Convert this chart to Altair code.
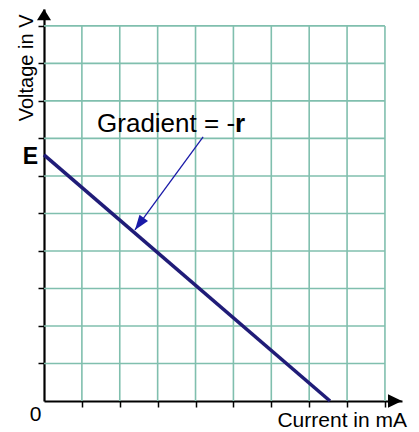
import altair as alt
import pandas as pd

# ---- data (chart units) ----
current_grid = [1, 2, 3, 4, 5, 6, 7, 8, 9]          # vertical grid lines / x ticks
voltage_grid = [1, 2, 3, 4, 5, 6, 7, 8, 9, 10]      # horizontal grid lines / y ticks
grid_current_max = 9
grid_voltage_max = 10
emf_E = 6.56            # intercept on voltage axis
current_intercept = 7.55  # intercept on current axis
line_current = [0, current_intercept]
line_voltage = [emf_E, 0]
x_axis_end = 9.45
y_axis_end = 10.45
arrow_from = [4.20, 7.04]
arrow_to = [2.40, 4.56]
label_anchor = [1.40, 7.17]

FONT = "Liberation Sans"
GRID = "#80bfae"

xs = alt.Scale(domain=[0, x_axis_end], nice=False, zero=False)
ys = alt.Scale(domain=[0, y_axis_end], nice=False, zero=False)
XA = alt.Axis(values=current_grid, labels=False, title=None, grid=False, ticks=True,
              tickSize=6, tickColor="black", tickWidth=1.5, domainColor="black", domainWidth=2.2)
YA = alt.Axis(values=voltage_grid, labels=False, title=None, grid=False, ticks=True,
              tickSize=6, tickColor="black", tickWidth=1.5, domainColor="black", domainWidth=2.2)

vgrid_df = pd.DataFrame({"x": current_grid, "y0": 0, "y1": grid_voltage_max})
hgrid_df = pd.DataFrame({"y": voltage_grid, "x0": 0, "x1": grid_current_max})

vgrid = alt.Chart(vgrid_df).mark_rule(color=GRID, strokeWidth=1.6).encode(
    x=alt.X("x:Q", scale=xs, axis=XA),
    y=alt.Y("y0:Q", scale=ys, axis=YA),
    y2="y1:Q",
)
hgrid = alt.Chart(hgrid_df).mark_rule(color=GRID, strokeWidth=1.6).encode(
    y=alt.Y("y:Q", scale=ys, axis=YA),
    x=alt.X("x0:Q", scale=xs, axis=XA),
    x2="x1:Q",
)

line_df = pd.DataFrame({"I": line_current, "V": line_voltage})
vline = alt.Chart(line_df).mark_line(color="#201c78", strokeWidth=3.6).encode(
    x=alt.X("I:Q", scale=xs, axis=XA),
    y=alt.Y("V:Q", scale=ys, axis=YA),
)

# axis arrowheads
up_df = pd.DataFrame({"x": [0], "y": [y_axis_end]})
right_df = pd.DataFrame({"x": [x_axis_end], "y": [0]})
up_head = alt.Chart(up_df).mark_point(shape="M0,0L-1,1.6L1,1.6Z", filled=True, size=196,
                                      color="black", opacity=1, strokeWidth=0).encode(
    x=alt.X("x:Q", scale=xs, axis=XA), y=alt.Y("y:Q", scale=ys, axis=YA))
right_head = alt.Chart(right_df).mark_point(shape="M0,0L-2,-0.95L-2,0.95Z", filled=True, size=196,
                                            color="black", opacity=1, strokeWidth=0).encode(
    x=alt.X("x:Q", scale=xs, axis=XA), y=alt.Y("y:Q", scale=ys, axis=YA))

# annotation arrow
arr_df = pd.DataFrame({"x": [arrow_from[0], arrow_to[0]], "y": [arrow_from[1], arrow_to[1]]})
shaft = alt.Chart(arr_df).mark_line(color="#1a1aa8", strokeWidth=1.3).encode(
    x=alt.X("x:Q", scale=xs, axis=XA), y=alt.Y("y:Q", scale=ys, axis=YA))
tip_df = pd.DataFrame({"x": [arrow_to[0]], "y": [arrow_to[1]]})
tip = alt.Chart(tip_df).mark_point(shape="M0,0L-0.7,2L0.7,2Z", filled=True, size=225, angle=216,
                                   color="#1a1aa8", opacity=1, strokeWidth=0).encode(
    x=alt.X("x:Q", scale=xs, axis=XA), y=alt.Y("y:Q", scale=ys, axis=YA))

lab_df = pd.DataFrame({"x": [label_anchor[0]], "y": [label_anchor[1]]})
grad_txt = alt.Chart(lab_df).mark_text(text="Gradient = -", align="left", baseline="alphabetic",
                                       fontSize=26, font=FONT, color="black").encode(
    x=alt.X("x:Q", scale=xs, axis=XA), y=alt.Y("y:Q", scale=ys, axis=YA))
r_txt = alt.Chart(lab_df).mark_text(text="r", align="left", baseline="alphabetic", dx=138,
                                    fontSize=26, font=FONT, fontWeight="bold", color="black").encode(
    x=alt.X("x:Q", scale=xs, axis=XA), y=alt.Y("y:Q", scale=ys, axis=YA))

e_df = pd.DataFrame({"x": [0], "y": [emf_E]})
e_txt = alt.Chart(e_df).mark_text(text="E", align="right", baseline="middle", dx=-6, dy=2,
                                  fontSize=23, font=FONT, fontWeight="bold", color="black").encode(
    x=alt.X("x:Q", scale=xs, axis=XA), y=alt.Y("y:Q", scale=ys, axis=YA))

o_df = pd.DataFrame({"x": [0], "y": [0]})
zero_txt = alt.Chart(o_df).mark_text(text="0", align="center", baseline="alphabetic", dx=-8.5, dy=20,
                                     fontSize=21, font=FONT, color="black").encode(
    x=alt.X("x:Q", scale=xs, axis=XA), y=alt.Y("y:Q", scale=ys, axis=YA))

cur_df = pd.DataFrame({"x": [x_axis_end], "y": [0]})
cur_txt = alt.Chart(cur_df).mark_text(text="Current in mA", align="right", baseline="alphabetic",
                                      dx=5, dy=26, fontSize=21, font=FONT, color="black").encode(
    x=alt.X("x:Q", scale=xs, axis=XA), y=alt.Y("y:Q", scale=ys, axis=YA))

volt_df = pd.DataFrame({"x": [0], "y": [8.88]})
volt_txt = alt.Chart(volt_df).mark_text(text="Voltage in V", align="center", baseline="alphabetic",
                                        angle=270, dy=-11, fontSize=20, font=FONT, color="black").encode(
    x=alt.X("x:Q", scale=xs, axis=XA), y=alt.Y("y:Q", scale=ys, axis=YA))

chart = alt.layer(
    vgrid, hgrid, vline, shaft, tip, up_head, right_head,
    grad_txt, r_txt, e_txt, zero_txt, cur_txt, volt_txt,
).properties(
    width=358, height=392,
    autosize=alt.AutoSizeParams(type="none"),
    padding={"left": 36, "top": 1, "right": 9, "bottom": 31},
    background="white",
).configure_view(stroke=None)

chart.save("out.html", embed_options={"renderer": "svg", "actions": False})
